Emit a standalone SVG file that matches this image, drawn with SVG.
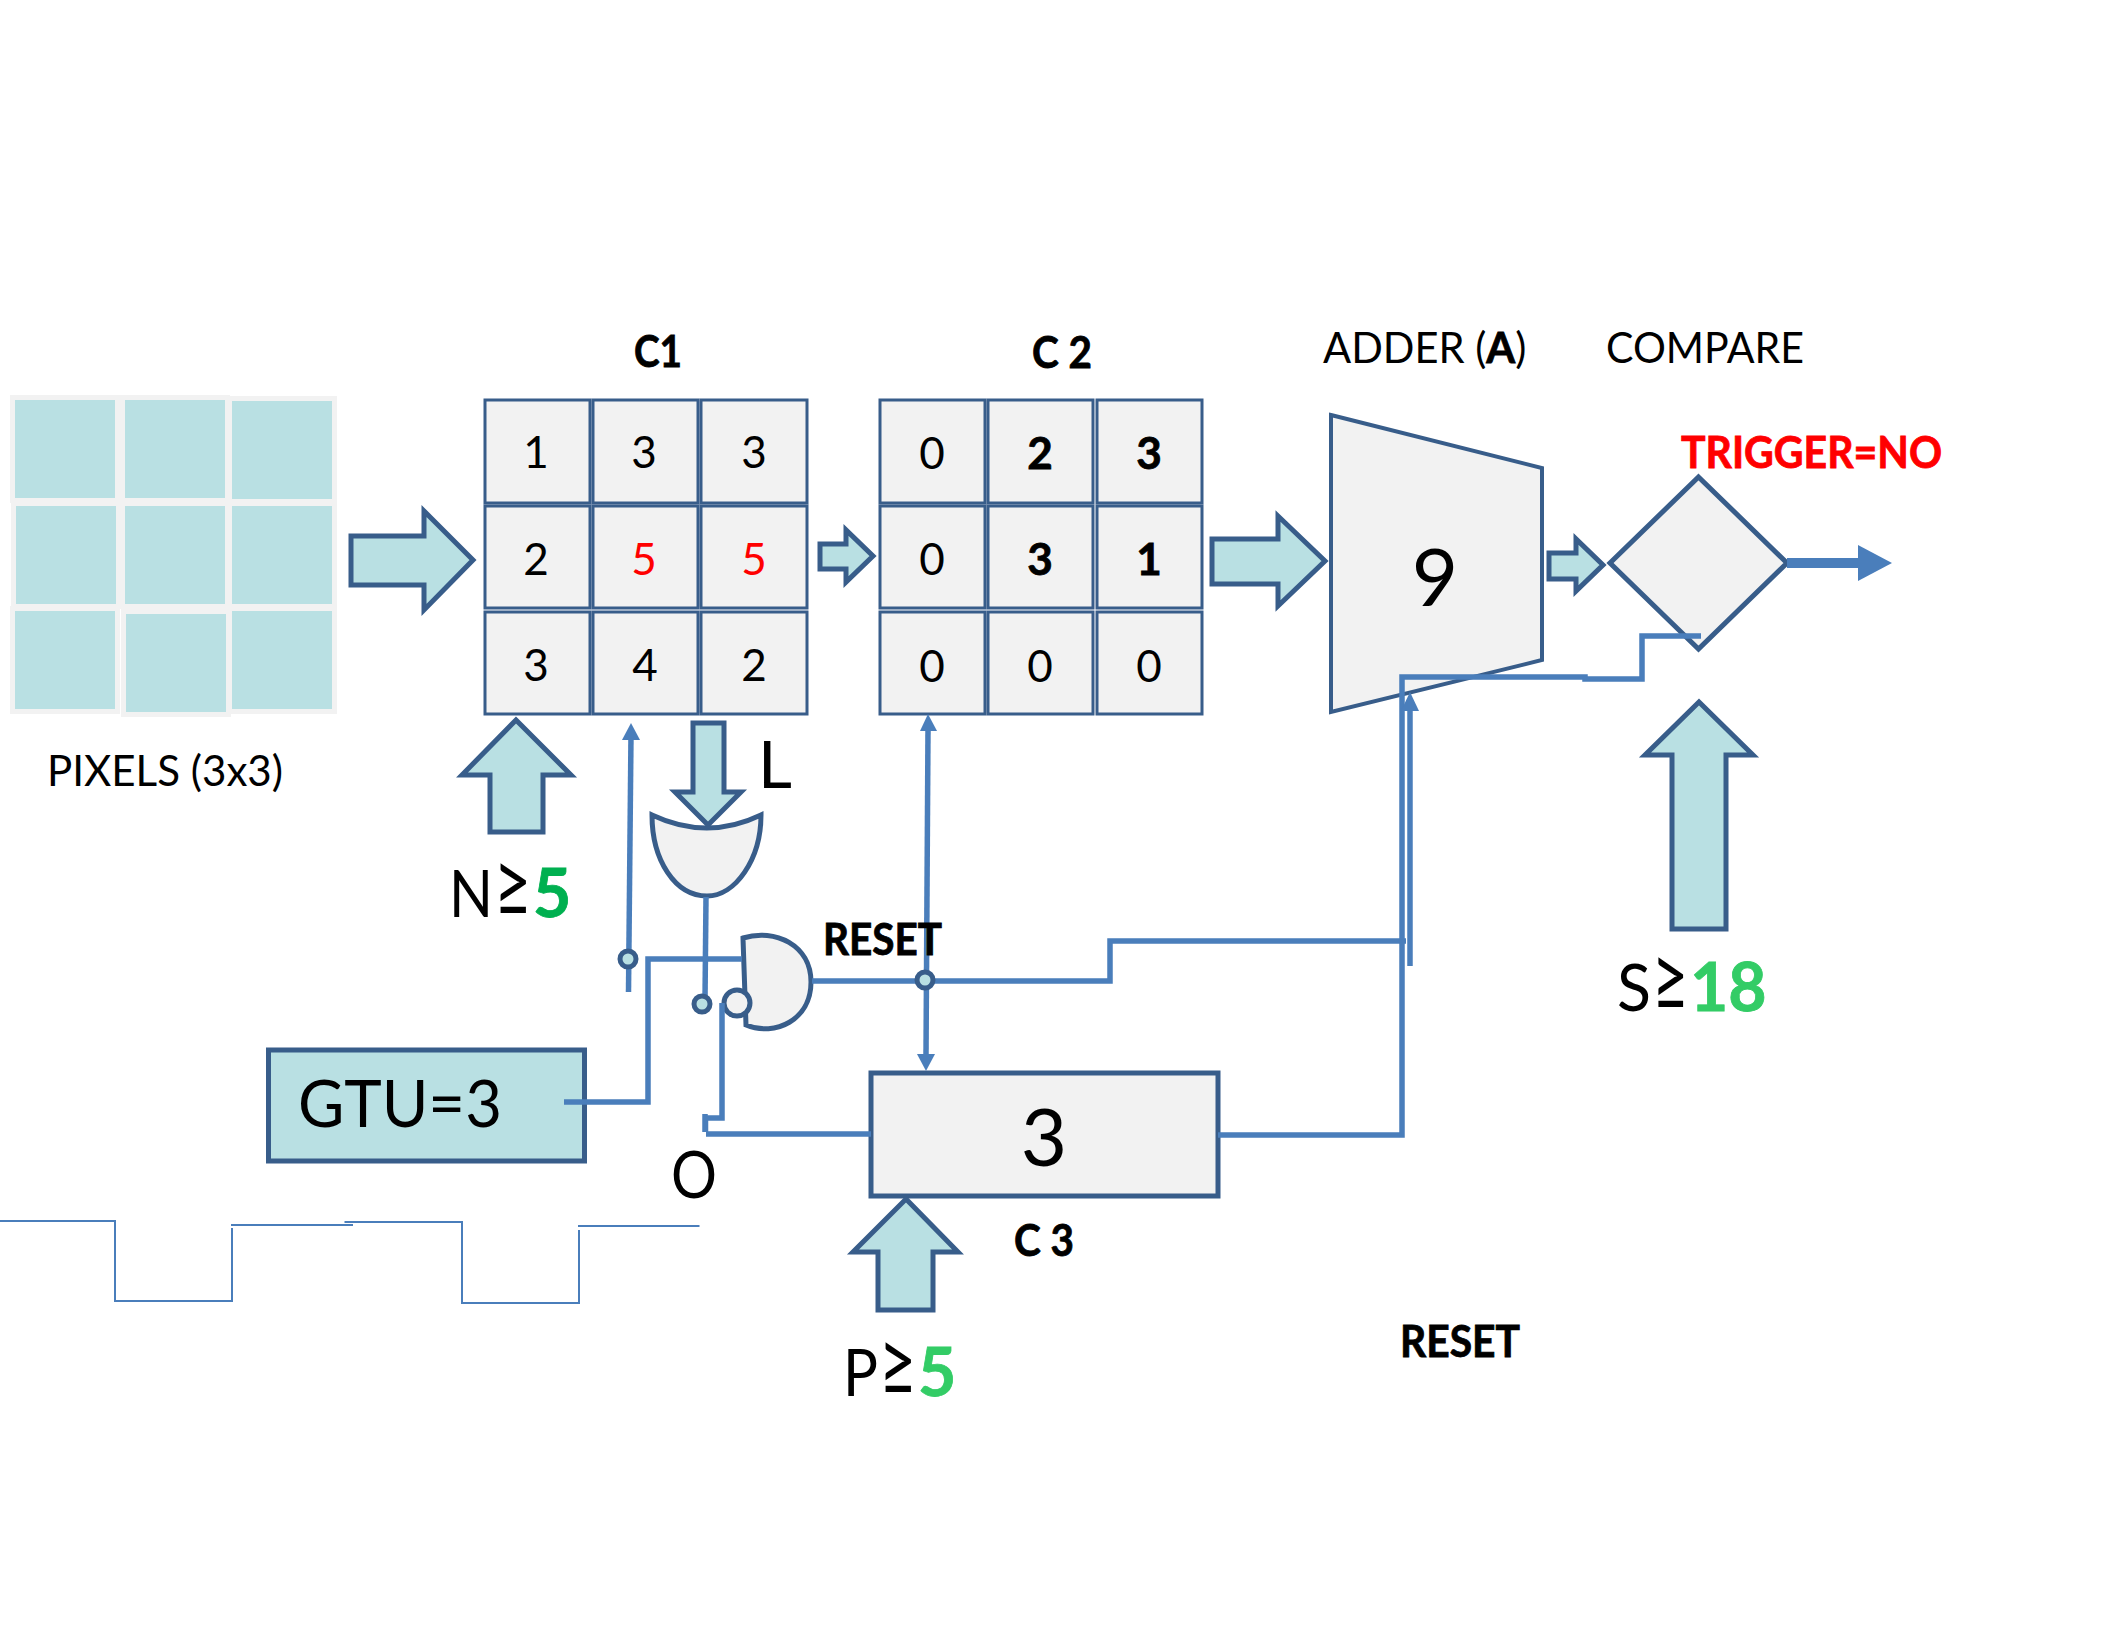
<svg xmlns="http://www.w3.org/2000/svg" width="2112" height="1632" viewBox="0 0 2112 1632">
<style>
text{font-family:Lato,"Open Sans","Liberation Sans",sans-serif;fill:#000}
.b{font-weight:700;stroke:#000;stroke-width:.8}
.d{font-size:44px;text-anchor:middle}
.l{font-size:43px}
.big{font-size:66px}
.ge{font-size:92px}
.cell{fill:#f2f2f2;stroke:#385d8a;stroke-width:3}
.px{fill:#b9e0e3;stroke:#f2f2f2;stroke-width:10;paint-order:stroke}
.sh{fill:#f2f2f2;stroke:#385d8a;stroke-width:5;stroke-linejoin:miter}
.ar{fill:#b9e0e3;stroke:#385d8a;stroke-width:5;stroke-miterlimit:10}
.w{fill:none;stroke:#4a7ebb;stroke-width:5.500}
.t{fill:none;stroke:#4a7ebb;stroke-width:2}
.h{fill:#4a7ebb;stroke:none}
.dot{fill:#b9e0e3;stroke:#385d8a;stroke-width:5}
.g5{fill:#00b050;stroke:#00b050}.g6{fill:#33cc66;stroke:#33cc66}.r{fill:#f00}.b.r{stroke:#f00}
</style>
<g id="pixels">
<rect class="px" x="15" y="400" width="100" height="98"/><rect class="px" x="125" y="400" width="100" height="98"/><rect class="px" x="232" y="401" width="100" height="98"/>
<rect class="px" x="16" y="506" width="100" height="98"/><rect class="px" x="125" y="506" width="100" height="98"/><rect class="px" x="232" y="506" width="100" height="98"/>
<rect class="px" x="15" y="611" width="100" height="98"/><rect class="px" x="126" y="614" width="100" height="98"/><rect class="px" x="232" y="611" width="100" height="98"/>
<text class="l" x="47" y="786" textLength="236" lengthAdjust="spacingAndGlyphs">PIXELS (3x3)</text>
</g>
<g id="c1">
<rect class="cell" x="485" y="400" width="105" height="103"/><rect class="cell" x="593" y="400" width="105" height="103"/><rect class="cell" x="701" y="400" width="106" height="103"/>
<rect class="cell" x="485" y="506" width="105" height="102"/><rect class="cell" x="593" y="506" width="105" height="102"/><rect class="cell" x="701" y="506" width="106" height="102"/>
<rect class="cell" x="485" y="612" width="105" height="102"/><rect class="cell" x="593" y="612" width="105" height="102"/><rect class="cell" x="701" y="612" width="106" height="102"/>
<text class="d" x="536" y="468">1</text><text class="d" x="644" y="468">3</text><text class="d" x="754" y="468">3</text>
<text class="d" x="536" y="575">2</text><text class="d r" x="644" y="575">5</text><text class="d r" x="754" y="575">5</text>
<text class="d" x="536" y="681">3</text><text class="d" x="645" y="681">4</text><text class="d" x="754" y="681">2</text>
<text class="l b" x="634" y="367" textLength="48" lengthAdjust="spacingAndGlyphs">C1</text>
</g>
<g id="c2">
<rect class="cell" x="880" y="400" width="105" height="103"/><rect class="cell" x="988" y="400" width="105" height="103"/><rect class="cell" x="1097" y="400" width="105" height="103"/>
<rect class="cell" x="880" y="506" width="105" height="102"/><rect class="cell" x="988" y="506" width="105" height="102"/><rect class="cell" x="1097" y="506" width="105" height="102"/>
<rect class="cell" x="880" y="612" width="105" height="102"/><rect class="cell" x="988" y="612" width="105" height="102"/><rect class="cell" x="1097" y="612" width="105" height="102"/>
<text class="d" x="932" y="469">0</text><text class="d b" x="1040" y="469">2</text><text class="d b" x="1149" y="469">3</text>
<text class="d" x="932" y="575">0</text><text class="d b" x="1040" y="575">3</text><text class="d b" x="1149" y="575">1</text>
<text class="d" x="932" y="682">0</text><text class="d" x="1040" y="682">0</text><text class="d" x="1149" y="682">0</text>
<text class="l b" x="1032" y="368" textLength="60" lengthAdjust="spacingAndGlyphs">C 2</text>
</g>
<g id="adder">
<path class="sh" style="stroke-width:4" d="M1331 415L1542 468V660L1331 712Z"/>
<text x="1435" y="606" font-size="80" text-anchor="middle">9</text>
<text class="l" x="1323" y="363" style="font-size:41.600px">ADDER (<tspan class="b">A</tspan>)</text>
</g>
<g id="compare">
<path class="sh" d="M1698.500 477L1787 563L1698.500 649L1610 563Z"/>
<text class="l" x="1606" y="363" textLength="198" lengthAdjust="spacingAndGlyphs">COMPARE</text>
<text class="l b r" x="1681" y="468" textLength="261" lengthAdjust="spacingAndGlyphs">TRIGGER=NO</text>
</g>
<g id="or-gate">
<path class="sh" d="M652 815Q707 841 761 815C761 860 735 896 707 896C675 896 652 860 652 815Z"/>
</g>
<g id="and-gate">
<path class="sh" d="M743 938C775 928 811 945 811 982C811 1020 775 1037 746 1025Z"/>
<circle cx="737" cy="1003" r="13" stroke="#385d8a" stroke-width="5" fill="#f2f2f2"/>
</g>
<g id="gtu">
<rect x="268.500" y="1050" width="316" height="111" fill="#b9e0e3" stroke="#385d8a" stroke-width="5"/>
<text class="big" x="298" y="1127" textLength="204" lengthAdjust="spacingAndGlyphs">GTU=3</text>
</g>
<g id="c3">
<rect class="sh" x="871" y="1073" width="347" height="123"/>
<text x="1044" y="1166" font-size="80" text-anchor="middle">3</text>
<text class="l b" x="1014" y="1256" textLength="60" lengthAdjust="spacingAndGlyphs">C 3</text>
</g>
<g id="connectors">
<path class="w" d="M628.500 992L631 735"/><path class="h" d="M631 723L640 740H622Z"/>
<path class="w" d="M564 1102H648V959H742"/>
<path class="w" d="M706 897L705 1000"/>
<path class="w" d="M722 1003V1118H705.500V1132M705 1114V1132M706 1134H871"/>
<path class="w" d="M812 981H1110V941H1406"/>
<path class="w" d="M928 730L926 1056"/><path class="h" d="M928 714L937 731H920Z"/><path class="h" d="M926 1071L917 1054H935Z"/>
<path class="w" d="M1218 1135H1402V677H1585V679H1642V636H1701"/>
<path class="w" d="M1410 966V705"/><path class="h" d="M1410 692L1419 711H1401Z"/>
<path class="w" style="stroke-width:10" d="M1787 563H1860"/><path class="h" d="M1892 563L1858 545V581Z"/>
<circle class="dot" cx="628" cy="959" r="8"/>
<circle class="dot" cx="702" cy="1004" r="8"/>
<circle class="dot" cx="925" cy="980" r="8"/>
<path class="t" d="M0 1221H115V1301H232V1228"/><path class="t" d="M231 1225H353"/><path class="t" d="M344.500 1222H462V1303H579V1230"/><path class="t" d="M578 1226H699.500"/>
</g>
<g id="arrow-pixels"><path class="ar" d="M351 536H424V511L473 560L424 610V585H351Z"/></g>
<g id="arrow-c1-c2"><path class="ar" d="M820 544H846V530L873 556L846 582V569H820Z"/></g>
<g id="arrow-c2-adder"><path class="ar" d="M1212 539H1278V516L1325 561L1278 606V584H1212Z"/></g>
<g id="arrow-adder-compare"><path class="ar" d="M1549 553H1576V539L1603 565L1576 591V579H1549Z"/></g>
<g id="arrow-n"><path class="ar" d="M516 720L571 775H543V832H490V775H462Z"/><text class="big" x="449" y="917" textLength="44" lengthAdjust="spacingAndGlyphs">N</text><text class="ge" x="494" y="917" textLength="38" lengthAdjust="spacingAndGlyphs">≥</text><text class="big b g5" x="533" y="917">5</text></g>
<g id="arrow-l"><path class="ar" d="M693 723H724V792H741L708 825L675 792H693Z"/><text class="big" x="758" y="788">L</text></g>
<g id="arrow-p"><path class="ar" d="M906 1199L958 1252H933V1310H878V1252H853Z"/><text class="big" x="843" y="1396" textLength="35" lengthAdjust="spacingAndGlyphs">P</text><text class="ge" x="879" y="1396" textLength="38" lengthAdjust="spacingAndGlyphs">≥</text><text class="big b g6" x="918" y="1396">5</text></g>
<g id="arrow-s"><path class="ar" d="M1699 702L1753 755H1726V929H1672V755H1645Z"/><text class="big" x="1617" y="1011" textLength="34" lengthAdjust="spacingAndGlyphs">S</text><text class="ge" x="1652" y="1011" textLength="37" lengthAdjust="spacingAndGlyphs">≥</text><text class="big b g6" x="1690" y="1011">18</text></g>
<text class="big" x="671" y="1198" textLength="46" lengthAdjust="spacingAndGlyphs">O</text>
<text class="l b" x="823" y="955" textLength="119" lengthAdjust="spacingAndGlyphs">RESET</text>
<text class="l b" x="1400" y="1357" textLength="120" lengthAdjust="spacingAndGlyphs">RESET</text>
</svg>
